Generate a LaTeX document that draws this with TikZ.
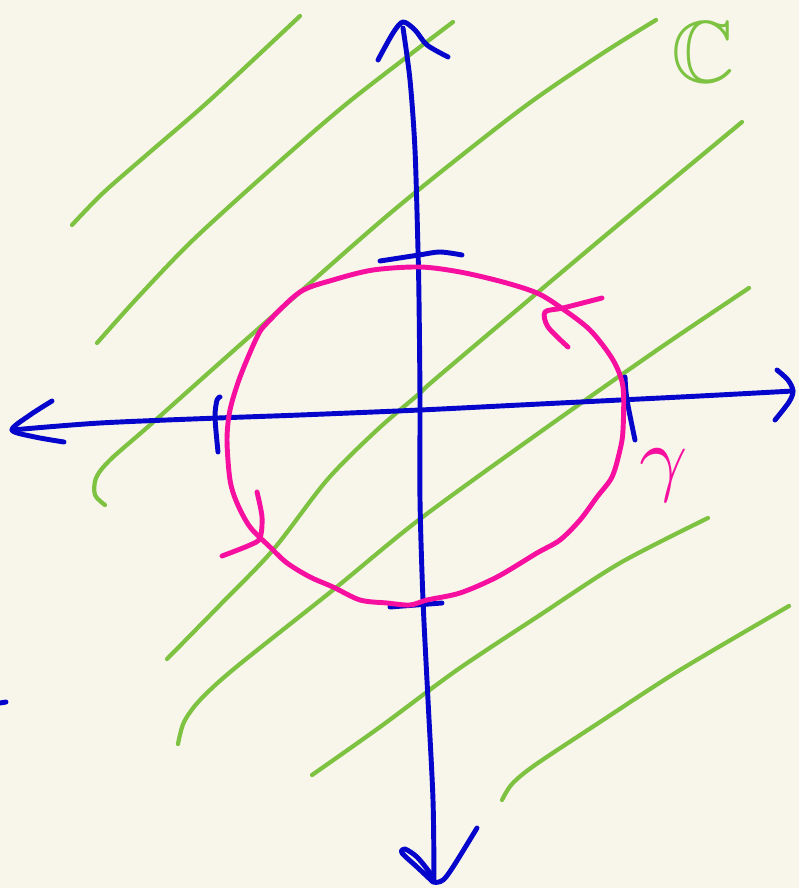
\documentclass[tikz,border=0pt]{standalone}
\usepackage{amsmath,amssymb}
\usepackage{tikz}
\usepackage{xcolor}

\definecolor{paper}{HTML}{F8F6EB}
\definecolor{penGreen}{HTML}{7DC241}
\definecolor{penBlue}{HTML}{0505CC}
\definecolor{penPink}{HTML}{F70FA0}

\begin{document}
\begin{tikzpicture}[x=0.01cm,y=-0.01cm,
  hatch/.style={penGreen,line width=1.2pt,line cap=round,line join=round},
  axis/.style={penBlue,line width=1.4pt,line cap=round,line join=round},
  contour/.style={penPink,line width=1.4pt,line cap=round,line join=round}]
\fill[paper] (0,0) rectangle (799,888);
\useasboundingbox (0,0) rectangle (799,888);

\draw[hatch] plot[smooth,tension=0.5] coordinates {(72,225) (103,193) (150,152) (210,100) (300,16)};
\draw[hatch] plot[smooth,tension=0.5] coordinates {(97,343) (140,295) (193,240) (270,170) (350,101) (453,22)};
\draw[hatch] plot[smooth,tension=0.5] coordinates {(105,505) (95,495) (96,478) (110,460) (150,425) (223,360) (300,292) (400,205) (520,110) (600,55) (656,20)};
\draw[hatch] plot[smooth,tension=0.5] coordinates {(167,659) (220,605) (273,550) (327,480) (377,430) (420,393) (440,375) (600,240) (742,122)};
\draw[hatch] plot[smooth,tension=0.5] coordinates {(178,744) (184,722) (200,700) (235,668) (333,590) (420,519) (543,430) (660,348) (749,288)};
\draw[hatch] plot[smooth,tension=0.5] coordinates {(312,775) (380,727) (457,670) (540,615) (620,563) (708,518)};
\draw[hatch] plot[smooth,tension=0.5] coordinates {(502,800) (512,784) (535,765) (600,722) (680,670) (789,606)};

\node[penGreen,scale=2.5,inner sep=0pt] (plane) at (703,52) {$\mathbb{C}$};

\draw[axis] plot[smooth,tension=0.5] coordinates {(403,28) (410,80) (415,150) (418,250) (419,300) (420,400) (420,500) (423,600) (428,700) (433,800) (434,882)};
\draw[axis] plot[smooth,tension=0.5] coordinates {(378,60) (393,33) (403,22) (415,30) (427,45) (448,57)};
\draw[axis] plot[smooth,tension=0.5] coordinates {(433,882) (417,867) (402,853) (405,849) (417,857) (430,873) (434,882) (443,880) (453,867) (477,828)};
\draw[axis] plot[smooth,tension=0.5] coordinates {(12,430) (100,423) (218,418) (300,415) (420,410) (520,405) (620,400) (700,396) (793,391)};
\draw[axis] plot[smooth,tension=0.5] coordinates {(52,401) (30,415) (12,430) (35,437) (64,442)};
\draw[axis] plot[smooth,tension=0.5] coordinates {(777,370) (788,380) (793,391) (789,402) (775,420)};
\draw[axis] plot[smooth,tension=0.5] coordinates {(380,261) (419,255) (440,252) (462,255)};
\draw[axis] (390,607) -- (442,603);
\draw[axis] plot[smooth,tension=0.5] coordinates {(220,397) (217,400) (215,417) (218,452)};
\draw[axis] plot[smooth,tension=0.5] coordinates {(625,377) (627,400) (635,440)};
\draw[axis] (0,703) -- (6,702);

\draw[contour] plot[smooth cycle,tension=0.5] coordinates {(420,267) (373,270) (333,280) (300,292) (267,323) (257,337) (240,377) (230,410) (227,440) (230,480) (237,503) (250,527) (270,547) (287,563) (310,577) (333,587) (360,600) (387,603) (410,605) (427,600) (460,593) (497,577) (537,553) (560,540) (580,520) (597,497) (612,477) (620,450) (623,430) (623,387) (613,360) (590,330) (560,307) (537,293) (503,282) (460,272)};
\draw[contour] plot[smooth,tension=0.5] coordinates {(602,298) (563,308) (545,312) (548,327) (568,347)};
\draw[contour] plot[smooth,tension=0.5] coordinates {(257,492) (262,517) (260,538) (250,545) (222,556)};

\node[penPink,scale=2.4,inner sep=0pt] (gamma) at (664,476) {$\gamma$};
\end{tikzpicture}
\end{document}
